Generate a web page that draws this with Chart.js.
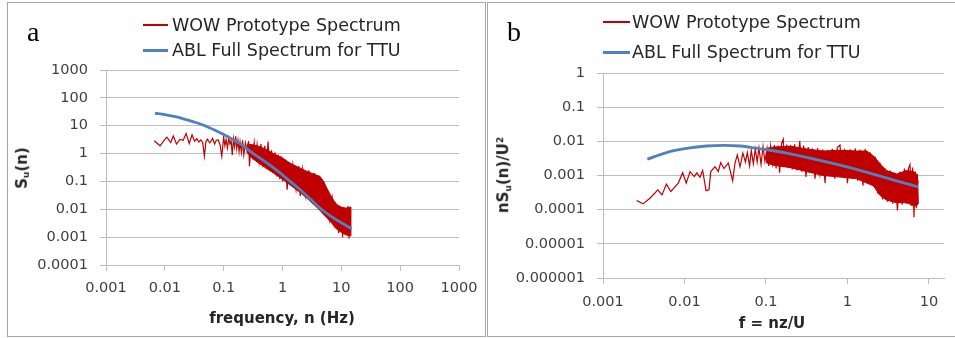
<!DOCTYPE html>
<html>
<head>
<meta charset="utf-8">
<script src="https://cdn.jsdelivr.net/npm/chart.js@4.4.0/dist/chart.umd.min.js"></script>
<style>
body { margin: 0; background: #fff; width: 955px; height: 338px; overflow: hidden; position: relative; font-family: 'DejaVu Sans', sans-serif; }
.panel { position: absolute; border: 1px solid #a6a6a6; box-sizing: border-box; }
canvas { position: absolute; top: 0; }
.txt { position: absolute; white-space: nowrap; color: #262626; }
.leg { font-size: 17.5px; line-height: 20px; }
.sw { position: absolute; }
.letter { font-family: 'Liberation Serif', serif; font-size: 28px; line-height: 28px; color: #000; }
.ttl { font-weight: bold; font-size: 15px; line-height: 18px; transform: translate(-50%, -50%); }
.rot { transform: translate(-50%, -50%) rotate(-90deg); }
sub { font-size: 0.6em; vertical-align: -0.25em; }
sup { font-size: 0.6em; vertical-align: 0.6em; }
</style>
</head>
<body>
<div class="panel" style="left:7px;top:2px;width:479px;height:335px"></div>
<div class="panel" style="left:487px;top:2px;width:470px;height:335px"></div>

<canvas id="chartA" width="487" height="338" style="left:0"></canvas>
<canvas id="chartB" width="468" height="338" style="left:487px"></canvas>

<div class="txt letter" style="left:27px;top:18px">a</div>
<div class="txt letter" style="left:507px;top:18px">b</div>

<div class="sw" style="left:143px;top:24px;width:25px;height:2px;background:#c00000"></div>
<div class="txt leg" style="left:172px;top:15px">WOW Prototype Spectrum</div>
<div class="sw" style="left:143px;top:48.5px;width:25px;height:3px;background:#4f81bd"></div>
<div class="txt leg" style="left:172px;top:40px">ABL Full Spectrum for TTU</div>

<div class="sw" style="left:603px;top:21px;width:27px;height:2px;background:#c00000"></div>
<div class="txt leg" style="left:632px;top:12px">WOW Prototype Spectrum</div>
<div class="sw" style="left:603px;top:50.5px;width:27px;height:3px;background:#4f81bd"></div>
<div class="txt leg" style="left:632px;top:42px">ABL Full Spectrum for TTU</div>

<div class="txt ttl" style="left:282px;top:318px">frequency, n (Hz)</div>
<div class="txt ttl" style="left:772px;top:323px">f = nz/U</div>
<div class="txt ttl rot" style="left:24px;top:168px">S<sub>u</sub>(n)</div>
<div class="txt ttl rot" style="left:504px;top:175px">nS<sub>u</sub>(n)/U<sup>2</sup></div>

<script>
// axis ticks
const xTicksA = [0.001, 0.01, 0.1, 1, 10, 100, 1000];
const yTicksA = [0.0001, 0.001, 0.01, 0.1, 1, 10, 100, 1000];
const xTicksB = [0.001, 0.01, 0.1, 1, 10];
const yTicksB = [0.000001, 0.00001, 0.0001, 0.001, 0.01, 0.1, 1];

// panel a: WOW prototype spectrum S_u(n) vs n (Hz)
const wowFreqA = [0.0066, 0.0083, 0.0095, 0.0108, 0.0126, 0.0139, 0.0158, 0.018, 0.0205, 0.023,
  0.026, 0.029, 0.032, 0.035, 0.038, 0.041, 0.044, 0.047, 0.05, 0.053,
  0.058, 0.065, 0.07, 0.075, 0.081, 0.087, 0.093, 0.1, 0.105, 0.11,
  0.116, 0.122, 0.128, 0.134, 0.14, 0.147, 0.153, 0.16, 0.167, 0.175, 0.183,
  0.19, 0.2, 0.21, 0.22, 0.235, 0.25, 0.265, 0.275, 0.29, 0.31,
  0.33, 0.35, 0.37, 0.4, 0.43, 0.46, 0.5, 0.53, 0.57, 0.6,
  0.65, 0.7, 0.75, 0.8, 0.85, 0.9, 0.95, 1.0, 1.1, 1.2,
  1.3, 1.4, 1.5, 1.7, 1.9, 2.0, 2.2, 2.5, 2.8, 3.1,
  3.5, 3.8, 4.2, 4.6, 5.0, 5.4, 5.8, 6.3, 7, 7.6,
  8.4, 9, 10, 10.5, 11.5, 12.2, 13, 13.5, 14.3, 14.5];
const wowValA = [2.9, 1.9, 2.8, 3.9, 2.5, 4.3, 2.2, 3.2, 3.0, 5.3,
  2.3, 4.7, 2.8, 3.4, 2.6, 3.1, 2.5, 0.8, 2.7, 3.3,
  2.4, 3.5, 2.2, 3.0, 3.1, 2.0, 0.8, 4.0, 1.9, 3.2,
  1.6, 3.6, 2.2, 2.9, 0.9, 3.4, 1.8, 4.2, 1.5, 3.0, 1.2,
  2.6, 1.1, 3.0, 0.9, 2.4, 1.2, 2.8, 0.35, 2.2, 0.8,
  2.5, 0.6, 2.1, 0.5, 2.2, 0.45, 1.9, 0.35, 2.7, 0.3,
  1.3, 0.2, 1.1, 0.15, 0.9, 0.12, 0.8, 0.1, 0.6, 0.05,
  0.5, 0.07, 0.4, 0.05, 0.35, 0.03, 0.28, 0.03, 0.25, 0.018,
  0.2, 0.013, 0.16, 0.01, 0.1, 0.006, 0.05, 0.0045, 0.025, 0.003,
  0.015, 0.0014, 0.012, 0.001, 0.01, 0.0013, 0.013, 0.0009, 0.012, 0.0011];
// dense part of the WOW trace: top and bottom of the red band
const bandFreqA = [0.25, 0.3, 0.37, 0.5, 0.7, 1.0, 1.35, 2.0, 2.6, 3.5, 4.36, 5.0, 5.66, 7, 8.4, 10, 12, 14.5];
const bandHiA = [2.2, 2.1, 1.9, 1.5, 1.0, 0.7, 0.45, 0.3, 0.23, 0.18, 0.15, 0.1, 0.058, 0.025, 0.0145, 0.012, 0.011, 0.012];
const bandLoA = [1.1, 0.7, 0.5, 0.32, 0.2, 0.12, 0.075, 0.04, 0.025, 0.014, 0.009, 0.0065, 0.005, 0.003, 0.0019, 0.0015, 0.0012, 0.0011];
// ABL full spectrum for TTU
const ablFreqA = [0.0068, 0.01, 0.015, 0.02, 0.03, 0.048, 0.07, 0.1, 0.15, 0.2, 0.32, 0.5, 0.8, 1.35, 2, 3, 4.6, 7, 10, 15];
const ablValA = [28, 25, 21, 18, 14, 10, 7, 4.8, 3, 2.1, 1, 0.52, 0.25, 0.1, 0.05, 0.023, 0.01, 0.0052, 0.0033, 0.002];

// panel b: nS_u(n)/U^2 vs f = nz/U
const wowFreqB = [0.00259, 0.0031, 0.0038, 0.0047, 0.0053, 0.006, 0.0068, 0.0084, 0.0095, 0.0105,
  0.0117, 0.0132, 0.0142, 0.0155, 0.0167, 0.0184, 0.02, 0.021, 0.0237, 0.026,
  0.0278, 0.0305, 0.0345, 0.039, 0.0417, 0.0445, 0.048, 0.052, 0.056, 0.059,
  0.063, 0.066, 0.07, 0.074, 0.078, 0.082, 0.087, 0.092, 0.097, 0.103,
  0.108, 0.114, 0.12, 0.127, 0.133, 0.14, 0.147, 0.155, 0.163, 0.17,
  0.18, 0.19, 0.2, 0.21, 0.225, 0.24, 0.26, 0.275, 0.29, 0.31,
  0.33, 0.35, 0.37, 0.4, 0.43, 0.46, 0.5, 0.53, 0.57, 0.61,
  0.65, 0.7, 0.75, 0.81, 0.86, 0.92, 1.0, 1.08, 1.16, 1.25,
  1.33, 1.43, 1.55, 1.65, 1.75, 1.9, 2.05, 2.2, 2.35, 2.5,
  2.7, 2.9, 3.1, 3.35, 3.6, 3.85, 4.1, 4.4, 4.7, 5.0,
  5.3, 5.6, 5.85, 6.1, 6.3, 6.55, 6.8, 7.0, 7.2, 7.4];
const wowValB = [0.000186, 0.000148, 0.00022, 0.00038, 0.00027, 0.00056, 0.00034, 0.0006, 0.0012, 0.0006,
  0.0013, 0.00093, 0.0012, 0.00089, 0.0014, 0.00036, 0.00038, 0.0013, 0.0018, 0.0013,
  0.0024, 0.0016, 0.0023, 0.0007, 0.0023, 0.004, 0.0018, 0.0045, 0.0025, 0.0047,
  0.0019, 0.0055, 0.0022, 0.006, 0.0025, 0.0065, 0.0021, 0.007, 0.0026, 0.0062,
  0.0019, 0.0072, 0.0023, 0.0078, 0.0016, 0.0075, 0.0012, 0.0085, 0.0115, 0.0018,
  0.008, 0.0017, 0.0078, 0.0015, 0.0082, 0.0014, 0.0102, 0.0013, 0.0075, 0.0009,
  0.0068, 0.0012, 0.0062, 0.0008, 0.0064, 0.0011, 0.0058, 0.0006, 0.0055, 0.001,
  0.006, 0.0008, 0.0066, 0.0078, 0.0009, 0.006, 0.0006, 0.0058, 0.0009, 0.0062,
  0.0007, 0.0057, 0.0005, 0.006, 0.0008, 0.0048, 0.0005, 0.0035, 0.0003, 0.0024,
  0.0002, 0.0016, 0.00017, 0.0014, 0.00015, 0.0012, 0.000095, 0.0013, 0.00014, 0.0016,
  0.00015, 0.0016, 0.0021, 0.00013, 0.0017, 0.00006, 0.0013, 0.00011, 0.0011, 0.00015];
const bandFreqB = [0.1, 0.123, 0.2, 0.315, 0.5, 0.81, 1.3, 1.72, 2.08, 2.51, 3.03, 4.02, 5.33, 6.5, 7.06, 7.4];
const bandHiB = [0.0062, 0.0068, 0.0072, 0.006, 0.0052, 0.0055, 0.0052, 0.0052, 0.0038, 0.0022, 0.0014, 0.0011, 0.0014, 0.0013, 0.0011, 0.0006];
const bandLoB = [0.0024, 0.002, 0.0017, 0.0013, 0.001, 0.0009, 0.0008, 0.0006, 0.0005, 0.00026, 0.00019, 0.00016, 0.00016, 0.00013, 0.00013, 0.00015];
const ablFreqB = [0.0035, 0.006, 0.0106, 0.0187, 0.03, 0.048, 0.064, 0.123, 0.2, 0.316, 0.81, 2.07, 4, 7.4];
const ablValB = [0.003, 0.0047, 0.0062, 0.0073, 0.0076, 0.0073, 0.0067, 0.0053, 0.0043, 0.0034, 0.002, 0.0011, 0.0007, 0.00046];

const red = '#c00000', blue = '#4f81bd', gridCol = '#bdbdbd', tickCol = '#404040';
Chart.defaults.font.family = "'DejaVu Sans'";

function pts(xs, ys) {
  return xs.map((x, i) => ({ x: x, y: ys[i] }));
}

function spectrumChart(id, c) {
  return new Chart(document.getElementById(id), {
    type: 'line',
    data: {
      datasets: [
        { label: 'WOW Prototype Spectrum', data: pts(c.wowF, c.wowV), borderColor: red, borderWidth: 1.2, pointRadius: 0, tension: 0, order: 1 },
        { label: 'ABL Full Spectrum for TTU', data: pts(c.ablF, c.ablV), borderColor: blue, borderWidth: 2.8, pointRadius: 0, cubicInterpolationMode: 'monotone', order: 0 },
        { label: 'band top', data: pts(c.bandF, c.bandHi), borderColor: red, borderWidth: 1, pointRadius: 0, fill: false, order: 2 },
        { label: 'band bottom', data: pts(c.bandF, c.bandLo), borderColor: red, borderWidth: 1, pointRadius: 0, fill: '-1', backgroundColor: red, order: 2 }
      ]
    },
    options: {
      responsive: false,
      animation: false,
      events: [],
      layout: { padding: c.padding },
      plugins: { legend: { display: false }, tooltip: { enabled: false } },
      scales: {
        x: {
          type: 'logarithmic', min: c.xMin, max: c.xMax,
          afterFit: s => { s.height = c.xH; },
          afterBuildTicks: s => { s.ticks = c.xTicks.map(v => ({ value: v })); },
          ticks: { callback: v => String(v), autoSkip: false, maxRotation: 0, padding: c.xPad, color: tickCol, font: { size: 14.5 } },
          grid: { drawOnChartArea: false, tickLength: 6, color: gridCol },
          border: { color: gridCol }
        },
        y: {
          type: 'logarithmic', min: c.yMin, max: c.yMax,
          afterFit: s => { s.width = c.yW; },
          afterBuildTicks: s => { s.ticks = c.yTicks.map(v => ({ value: v })); },
          ticks: { callback: v => String(v), autoSkip: false, padding: 12, color: tickCol, font: { size: 14.5 } },
          grid: { tickLength: 6, color: gridCol },
          border: { color: gridCol }
        }
      }
    }
  });
}

spectrumChart('chartA', {
  wowF: wowFreqA, wowV: wowValA, ablF: ablFreqA, ablV: ablValA,
  bandF: bandFreqA, bandHi: bandHiA, bandLo: bandLoA,
  xTicks: xTicksA, yTicks: yTicksA, xMin: 0.001, xMax: 1000, yMin: 0.0001, yMax: 1000,
  padding: { left: 0, right: 28, top: 70, bottom: 0 }, yW: 106, xH: 73, xPad: 9
});

spectrumChart('chartB', {
  wowF: wowFreqB, wowV: wowValB, ablF: ablFreqB, ablV: ablValB,
  bandF: bandFreqB, bandHi: bandHiB, bandLo: bandLoB,
  xTicks: xTicksB, yTicks: yTicksB, xMin: 0.001, xMax: 15.3, yMin: 0.000001, yMax: 1,
  padding: { left: 0, right: 11, top: 73, bottom: 0 }, yW: 116, xH: 60, xPad: 10
});
</script>
</body>
</html>
